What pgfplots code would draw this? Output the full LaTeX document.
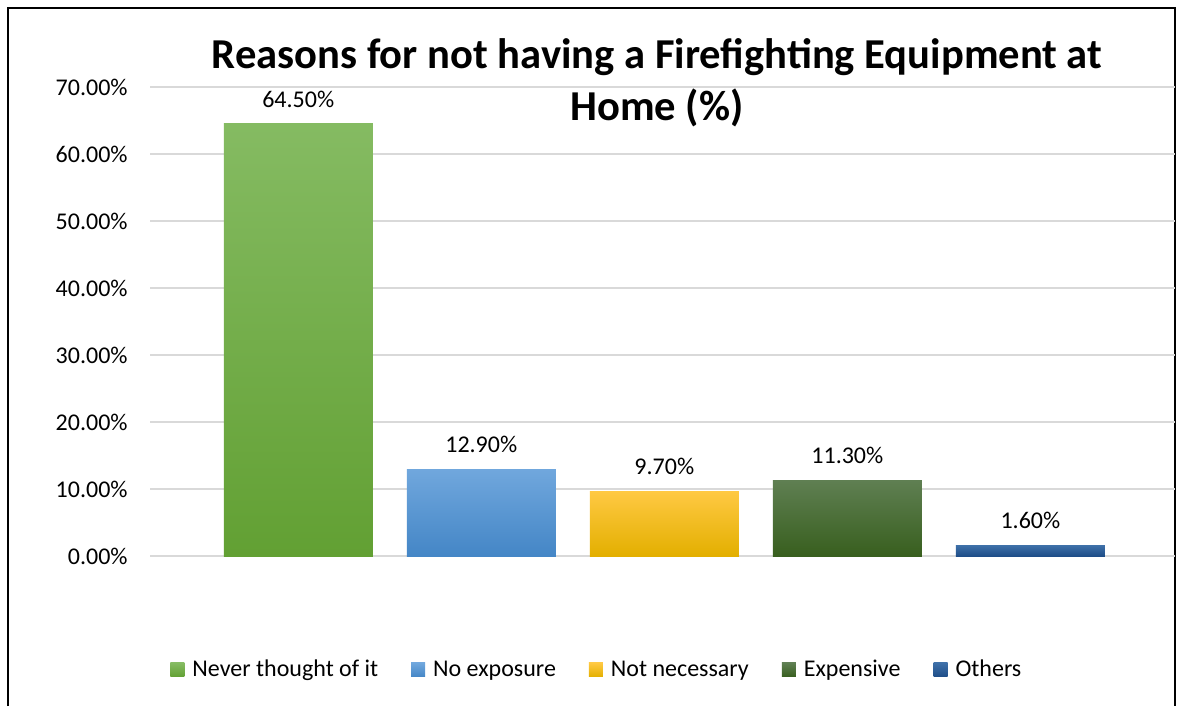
\documentclass[border=0pt]{standalone}
\usepackage{pgfplots}
\pgfplotsset{compat=1.18}
\usepackage{fontspec}
\setmainfont{Carlito}
\definecolor{gridc}{HTML}{D9D9D9}
\definecolor{g1t}{HTML}{85BB62}
\definecolor{g1b}{HTML}{62A033}
\definecolor{b1t}{HTML}{70A7DD}
\definecolor{b1b}{HTML}{4486C6}
\definecolor{y1t}{HTML}{FFC943}
\definecolor{y1b}{HTML}{E3AF00}
\definecolor{d1t}{HTML}{5F7F52}
\definecolor{d1b}{HTML}{385F1E}
\definecolor{o1t}{HTML}{3E70A8}
\definecolor{o1b}{HTML}{1E4D88}
\begin{document}
\begin{tikzpicture}
\useasboundingbox (0pt,0pt) rectangle (590.5pt,353pt);
\draw[line width=1pt] (4pt,0pt) -- (4pt,349pt) -- (587.5pt,349pt) -- (587.5pt,0pt);
\node[align=center, font=\bfseries\fontsize{21.3}{26}\selectfont, inner sep=0pt] at (328.5pt,311.75pt)
  {Reasons for not having a Firefighting Equipment at\\Home (\%)};
\begin{axis}[
  at={(75pt,75pt)}, anchor=south west,
  scale only axis, width=512.5pt, height=234.5pt,
  xmin=-0.81, xmax=4.79, ymin=0, ymax=70,
  enlargelimits=false,
  axis line style={draw=none},
  major tick length=0pt,
  xtick=\empty,
  ytick={0,10,...,70},
  ymajorgrids,
  grid style={gridc, line width=0.75pt},
  /pgf/number format/assume math mode=true,
  yticklabel={\pgfmathprintnumber[fixed,fixed zerofill,precision=2]{\tick}\%},
  yticklabel style={font=\fontsize{12}{14}\selectfont, anchor=east, inner sep=0pt, xshift=-11pt},
  nodes near coords={\pgfmathprintnumber[fixed,fixed zerofill,precision=2]{\pgfplotspointmeta}\%},
  every node near coord/.append style={font=\fontsize{12}{14}\selectfont, text=black, anchor=south, inner sep=0pt, yshift=8pt},
  area legend,
  legend image code/.code={\path[#1] (0pt,-3.5pt) rectangle (7pt,3.5pt);},
  legend columns=-1,
  legend style={at={(0.437,-0.243)}, anchor=center, draw=none, fill=none,
    font=\fontsize{12}{14}\selectfont,
    /tikz/every even column/.append style={column sep=14.5pt},
    /tikz/every odd column/.append style={column sep=2pt}},
]
\addplot[ybar, bar width=74.5pt, bar shift=0pt, draw=none, top color=g1t, bottom color=g1b] coordinates {(0,64.5)};
\addlegendentry{Never thought of it}
\addplot[ybar, bar width=74.5pt, bar shift=0pt, draw=none, top color=b1t, bottom color=b1b] coordinates {(1,12.9)};
\addlegendentry{No exposure}
\addplot[ybar, bar width=74.5pt, bar shift=0pt, draw=none, top color=y1t, bottom color=y1b] coordinates {(2,9.7)};
\addlegendentry{Not necessary}
\addplot[ybar, bar width=74.5pt, bar shift=0pt, draw=none, top color=d1t, bottom color=d1b] coordinates {(3,11.3)};
\addlegendentry{Expensive}
\addplot[ybar, bar width=74.5pt, bar shift=0pt, draw=none, top color=o1t, bottom color=o1b] coordinates {(4,1.6)};
\addlegendentry{Others}
\end{axis}
\end{tikzpicture}
\end{document}
